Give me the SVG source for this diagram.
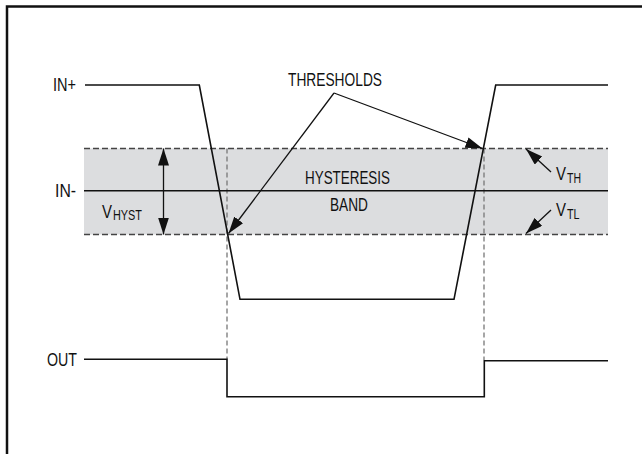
<svg xmlns="http://www.w3.org/2000/svg" width="642" height="454" viewBox="0 0 642 454">
<style>
text{font-family:"Liberation Sans",Arial,sans-serif;fill:#111}
.lbl{font-size:19px}
.v{font-size:18px}
.sub{font-size:14px}
.sig{fill:none;stroke:#111;stroke-width:1.6;stroke-linejoin:miter}
.band-edge{fill:none;stroke:#444;stroke-width:1.4;stroke-dasharray:6 3}
.guide{fill:none;stroke:#777;stroke-width:1.3;stroke-dasharray:5 3}
.ptr{fill:none;stroke:#111;stroke-width:1.3}
</style>
<defs>
<marker id="ah" markerUnits="userSpaceOnUse" markerWidth="18" markerHeight="12" refX="17" refY="5.5" orient="auto-start-reverse" viewBox="0 0 18 12">
<path d="M0,0 L17,5.5 L0,11 z" fill="#111"/>
</marker>
</defs>
<rect width="642" height="454" fill="#fff"/>
<path d="M7,454 V6.5 H642" fill="none" stroke="#111" stroke-width="2.5"/>

<g id="band">
<rect x="84" y="148.5" width="524" height="86" fill="#dcdddf"/>
<line class="band-edge" x1="84" y1="148.5" x2="608" y2="148.5"/>
<line class="band-edge" x1="84" y1="234.5" x2="608" y2="234.5"/>
</g>

<g id="guides">
<line class="guide" x1="227" y1="148.5" x2="227" y2="359"/>
<line class="guide" x1="484" y1="148.5" x2="484" y2="360"/>
</g>

<g id="in-minus">
<text class="lbl" x="55" y="197" textLength="21" lengthAdjust="spacingAndGlyphs">IN-</text>
<line class="sig" x1="84" y1="190.7" x2="608" y2="190.7"/>
</g>

<g id="in-plus">
<text class="lbl" x="53" y="91" textLength="23" lengthAdjust="spacingAndGlyphs">IN+</text>
<path class="sig" d="M85,85 H199.3 L240,299.3 H454 L495.7,85 H608"/>
</g>

<g id="out">
<text class="lbl" x="47" y="366" textLength="30" lengthAdjust="spacingAndGlyphs">OUT</text>
<path class="sig" d="M84,359.3 H227 V396.7 H484.3 V360.7 H608"/>
</g>

<g id="labels">
<text class="lbl" x="288" y="86" textLength="94" lengthAdjust="spacingAndGlyphs">THRESHOLDS</text>
<text class="lbl" x="305" y="184" textLength="85" lengthAdjust="spacingAndGlyphs">HYSTERESIS</text>
<text class="lbl" x="330" y="211" textLength="38" lengthAdjust="spacingAndGlyphs">BAND</text>
<text class="v" x="102" y="218" textLength="10" lengthAdjust="spacingAndGlyphs">V</text>
<text class="sub" x="113" y="219.5" textLength="29" lengthAdjust="spacingAndGlyphs">HYST</text>
<text class="v" x="556" y="180" textLength="10" lengthAdjust="spacingAndGlyphs">V</text>
<text class="sub" x="567" y="182.5" textLength="14" lengthAdjust="spacingAndGlyphs">TH</text>
<text class="v" x="556" y="216" textLength="10" lengthAdjust="spacingAndGlyphs">V</text>
<text class="sub" x="567" y="219" textLength="12.5" lengthAdjust="spacingAndGlyphs">TL</text>
</g>

<g id="connectors">
<line class="ptr" x1="334" y1="93" x2="228.5" y2="233.5" marker-end="url(#ah)"/>
<line class="ptr" x1="334" y1="93" x2="482.5" y2="148.5" marker-end="url(#ah)"/>
<line class="ptr" x1="163.5" y1="148.5" x2="163.5" y2="234.5" marker-start="url(#ah)" marker-end="url(#ah)"/>
<line class="ptr" x1="551" y1="172" x2="526" y2="149" marker-end="url(#ah)"/>
<line class="ptr" x1="551" y1="210" x2="526" y2="233.5" marker-end="url(#ah)"/>
</g>
</svg>
